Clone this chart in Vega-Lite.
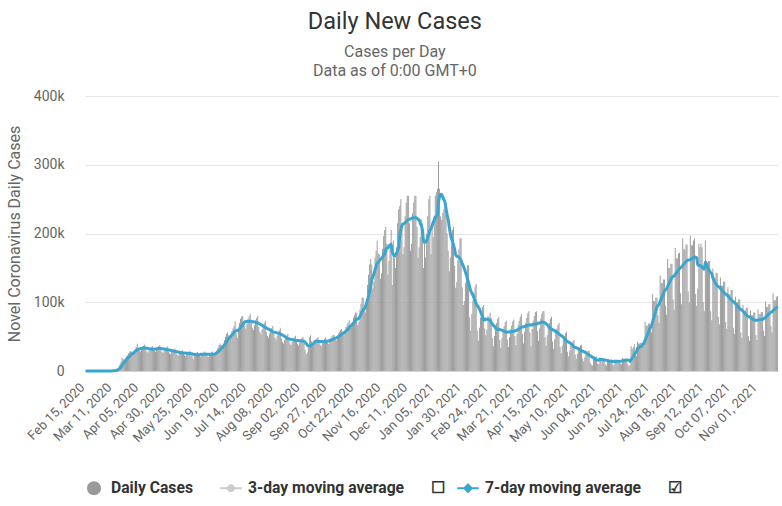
{
  "$schema": "https://vega.github.io/schema/vega-lite/v6.json",
  "width": 693,
  "height": 275,
  "autosize": "none",
  "padding": {"top": 96, "left": 85, "right": 4, "bottom": 135},
  "background": "white",
  "config": {
    "font": "Roboto",
    "view": {"stroke": null}
  },
  "title": {
    "text": "Daily New Cases",
    "subtitle": ["Cases per Day", "Data as of 0:00 GMT+0"],
    "fontSize": 23.5,
    "fontWeight": "normal",
    "color": "#333333",
    "subtitleFontSize": 16,
    "subtitleColor": "#666666",
    "subtitlePadding": 11,
    "subtitleLineHeight": 19,
    "anchor": "middle",
    "frame": "bounds",
    "offset": 10
  },
  "data": {"values": [
    {"d":"2020-02-15","c":0},{"d":"2020-02-16","c":0},{"d":"2020-02-17","c":0},{"d":"2020-02-18","c":1},{"d":"2020-02-19","c":0},{"d":"2020-02-20","c":0},{"d":"2020-02-21","c":0},
    {"d":"2020-02-22","c":0},{"d":"2020-02-23","c":0},{"d":"2020-02-24","c":0},{"d":"2020-02-25","c":0},{"d":"2020-02-26","c":1},{"d":"2020-02-27","c":0},{"d":"2020-02-28","c":1},
    {"d":"2020-02-29","c":6},{"d":"2020-03-01","c":9},{"d":"2020-03-02","c":20},{"d":"2020-03-03","c":25},{"d":"2020-03-04","c":37},{"d":"2020-03-05","c":70},{"d":"2020-03-06","c":90},
    {"d":"2020-03-07","c":130},{"d":"2020-03-08","c":170},{"d":"2020-03-09","c":250},{"d":"2020-03-10","c":330},{"d":"2020-03-11","c":550},{"d":"2020-03-12","c":750},{"d":"2020-03-13","c":1100},
    {"d":"2020-03-14","c":2000},{"d":"2020-03-15","c":3000},{"d":"2020-03-16","c":4500},{"d":"2020-03-17","c":7000},{"d":"2020-03-18","c":10000},{"d":"2020-03-19","c":14000},{"d":"2020-03-20","c":19000},
    {"d":"2020-03-21","c":17000},{"d":"2020-03-22","c":16500},{"d":"2020-03-23","c":19000},{"d":"2020-03-24","c":21000},{"d":"2020-03-25","c":23000},{"d":"2020-03-26","c":26000},{"d":"2020-03-27","c":28000},
    {"d":"2020-03-28","c":29000},{"d":"2020-03-29","c":27000},{"d":"2020-03-30","c":26000},{"d":"2020-03-31","c":29000},{"d":"2020-04-01","c":32000},{"d":"2020-04-02","c":35000},{"d":"2020-04-03","c":39500},
    {"d":"2020-04-04","c":33500},{"d":"2020-04-05","c":30200},{"d":"2020-04-06","c":28500},{"d":"2020-04-07","c":31800},{"d":"2020-04-08","c":35200},{"d":"2020-04-09","c":36900},{"d":"2020-04-10","c":38500},
    {"d":"2020-04-11","c":31500},{"d":"2020-04-12","c":28400},{"d":"2020-04-13","c":26800},{"d":"2020-04-14","c":29900},{"d":"2020-04-15","c":33100},{"d":"2020-04-16","c":34700},{"d":"2020-04-17","c":36200},
    {"d":"2020-04-18","c":33000},{"d":"2020-04-19","c":29700},{"d":"2020-04-20","c":28100},{"d":"2020-04-21","c":31400},{"d":"2020-04-22","c":34700},{"d":"2020-04-23","c":36300},{"d":"2020-04-24","c":38000},
    {"d":"2020-04-25","c":31000},{"d":"2020-04-26","c":27900},{"d":"2020-04-27","c":26400},{"d":"2020-04-28","c":29500},{"d":"2020-04-29","c":32600},{"d":"2020-04-30","c":34100},{"d":"2020-05-01","c":35700},
    {"d":"2020-05-02","c":28500},{"d":"2020-05-03","c":25700},{"d":"2020-05-04","c":24200},{"d":"2020-05-05","c":27100},{"d":"2020-05-06","c":29900},{"d":"2020-05-07","c":31400},{"d":"2020-05-08","c":32800},
    {"d":"2020-05-09","c":26300},{"d":"2020-05-10","c":23700},{"d":"2020-05-11","c":22400},{"d":"2020-05-12","c":25000},{"d":"2020-05-13","c":27600},{"d":"2020-05-14","c":28900},{"d":"2020-05-15","c":30200},
    {"d":"2020-05-16","c":25500},{"d":"2020-05-17","c":23000},{"d":"2020-05-18","c":21700},{"d":"2020-05-19","c":24200},{"d":"2020-05-20","c":26800},{"d":"2020-05-21","c":28100},{"d":"2020-05-22","c":29300},
    {"d":"2020-05-23","c":24000},{"d":"2020-05-24","c":21600},{"d":"2020-05-25","c":17000},{"d":"2020-05-26","c":22800},{"d":"2020-05-27","c":25200},{"d":"2020-05-28","c":26400},{"d":"2020-05-29","c":27600},
    {"d":"2020-05-30","c":24500},{"d":"2020-05-31","c":22100},{"d":"2020-06-01","c":20800},{"d":"2020-06-02","c":23300},{"d":"2020-06-03","c":25700},{"d":"2020-06-04","c":27000},{"d":"2020-06-05","c":28200},
    {"d":"2020-06-06","c":24000},{"d":"2020-06-07","c":21500},{"d":"2020-06-08","c":20500},{"d":"2020-06-09","c":23000},{"d":"2020-06-10","c":25500},{"d":"2020-06-11","c":27000},{"d":"2020-06-12","c":28500},
    {"d":"2020-06-13","c":25500},{"d":"2020-06-14","c":24000},{"d":"2020-06-15","c":25000},{"d":"2020-06-16","c":30000},{"d":"2020-06-17","c":34000},{"d":"2020-06-18","c":38000},{"d":"2020-06-19","c":40000},
    {"d":"2020-06-20","c":38000},{"d":"2020-06-21","c":35000},{"d":"2020-06-22","c":37000},{"d":"2020-06-23","c":45000},{"d":"2020-06-24","c":50000},{"d":"2020-06-25","c":54000},{"d":"2020-06-26","c":56000},
    {"d":"2020-06-27","c":52000},{"d":"2020-06-28","c":46000},{"d":"2020-06-29","c":50000},{"d":"2020-06-30","c":58000},{"d":"2020-07-01","c":62000},{"d":"2020-07-02","c":66000},{"d":"2020-07-03","c":72000},
    {"d":"2020-07-04","c":55000},{"d":"2020-07-05","c":48000},{"d":"2020-07-06","c":58000},{"d":"2020-07-07","c":70000},{"d":"2020-07-08","c":76000},{"d":"2020-07-09","c":79000},{"d":"2020-07-10","c":80000},
    {"d":"2020-07-11","c":72500},{"d":"2020-07-12","c":65300},{"d":"2020-07-13","c":61600},{"d":"2020-07-14","c":68900},{"d":"2020-07-15","c":76100},{"d":"2020-07-16","c":79800},{"d":"2020-07-17","c":83400},
    {"d":"2020-07-18","c":70000},{"d":"2020-07-19","c":63000},{"d":"2020-07-20","c":59500},{"d":"2020-07-21","c":66500},{"d":"2020-07-22","c":73500},{"d":"2020-07-23","c":77000},{"d":"2020-07-24","c":80500},
    {"d":"2020-07-25","c":63500},{"d":"2020-07-26","c":57200},{"d":"2020-07-27","c":54000},{"d":"2020-07-28","c":60300},{"d":"2020-07-29","c":66700},{"d":"2020-07-30","c":69900},{"d":"2020-07-31","c":73000},
    {"d":"2020-08-01","c":57000},{"d":"2020-08-02","c":51300},{"d":"2020-08-03","c":48500},{"d":"2020-08-04","c":54200},{"d":"2020-08-05","c":59900},{"d":"2020-08-06","c":62700},{"d":"2020-08-07","c":65600},
    {"d":"2020-08-08","c":54000},{"d":"2020-08-09","c":48600},{"d":"2020-08-10","c":45900},{"d":"2020-08-11","c":51300},{"d":"2020-08-12","c":56700},{"d":"2020-08-13","c":59400},{"d":"2020-08-14","c":62100},
    {"d":"2020-08-15","c":47000},{"d":"2020-08-16","c":42300},{"d":"2020-08-17","c":40000},{"d":"2020-08-18","c":44700},{"d":"2020-08-19","c":49400},{"d":"2020-08-20","c":51700},{"d":"2020-08-21","c":54100},
    {"d":"2020-08-22","c":44500},{"d":"2020-08-23","c":40100},{"d":"2020-08-24","c":37800},{"d":"2020-08-25","c":42300},{"d":"2020-08-26","c":46700},{"d":"2020-08-27","c":49000},{"d":"2020-08-28","c":51200},
    {"d":"2020-08-29","c":43500},{"d":"2020-08-30","c":39200},{"d":"2020-08-31","c":37000},{"d":"2020-09-01","c":41300},{"d":"2020-09-02","c":45700},{"d":"2020-09-03","c":47900},{"d":"2020-09-04","c":50000},
    {"d":"2020-09-05","c":40000},{"d":"2020-09-06","c":31000},{"d":"2020-09-07","c":24000},{"d":"2020-09-08","c":27000},{"d":"2020-09-09","c":36000},{"d":"2020-09-10","c":49000},{"d":"2020-09-11","c":52000},
    {"d":"2020-09-12","c":43000},{"d":"2020-09-13","c":38700},{"d":"2020-09-14","c":36600},{"d":"2020-09-15","c":40900},{"d":"2020-09-16","c":45200},{"d":"2020-09-17","c":47300},{"d":"2020-09-18","c":49500},
    {"d":"2020-09-19","c":42500},{"d":"2020-09-20","c":38300},{"d":"2020-09-21","c":36100},{"d":"2020-09-22","c":40400},{"d":"2020-09-23","c":44600},{"d":"2020-09-24","c":46800},{"d":"2020-09-25","c":48900},
    {"d":"2020-09-26","c":46000},{"d":"2020-09-27","c":41400},{"d":"2020-09-28","c":39100},{"d":"2020-09-29","c":43700},{"d":"2020-09-30","c":48300},{"d":"2020-10-01","c":50600},{"d":"2020-10-02","c":52900},
    {"d":"2020-10-03","c":52000},{"d":"2020-10-04","c":46800},{"d":"2020-10-05","c":44200},{"d":"2020-10-06","c":49400},{"d":"2020-10-07","c":54600},{"d":"2020-10-08","c":57200},{"d":"2020-10-09","c":59800},
    {"d":"2020-10-10","c":61000},{"d":"2020-10-11","c":54900},{"d":"2020-10-12","c":51900},{"d":"2020-10-13","c":58000},{"d":"2020-10-14","c":64100},{"d":"2020-10-15","c":67100},{"d":"2020-10-16","c":70200},
    {"d":"2020-10-17","c":74000},{"d":"2020-10-18","c":66600},{"d":"2020-10-19","c":62900},{"d":"2020-10-20","c":70300},{"d":"2020-10-21","c":77700},{"d":"2020-10-22","c":81400},{"d":"2020-10-23","c":85100},
    {"d":"2020-10-24","c":84600},{"d":"2020-10-25","c":66800},{"d":"2020-10-26","c":71200},{"d":"2020-10-27","c":89000},{"d":"2020-10-28","c":97900},{"d":"2020-10-29","c":106800},{"d":"2020-10-30","c":106800},
    {"d":"2020-10-31","c":95000},{"d":"2020-11-01","c":85000},{"d":"2020-11-02","c":105000},{"d":"2020-11-03","c":125000},{"d":"2020-11-04","c":140000},{"d":"2020-11-05","c":155000},{"d":"2020-11-06","c":163000},
    {"d":"2020-11-07","c":155000},{"d":"2020-11-08","c":120000},{"d":"2020-11-09","c":130000},{"d":"2020-11-10","c":165000},{"d":"2020-11-11","c":175000},{"d":"2020-11-12","c":190000},{"d":"2020-11-13","c":171000},
    {"d":"2020-11-14","c":169000},{"d":"2020-11-15","c":134000},{"d":"2020-11-16","c":142000},{"d":"2020-11-17","c":178000},{"d":"2020-11-18","c":196000},{"d":"2020-11-19","c":205000},{"d":"2020-11-20","c":210000},
    {"d":"2020-11-21","c":185000},{"d":"2020-11-22","c":140000},{"d":"2020-11-23","c":160000},{"d":"2020-11-24","c":185000},{"d":"2020-11-25","c":205000},{"d":"2020-11-26","c":125000},{"d":"2020-11-27","c":190000},
    {"d":"2020-11-28","c":165000},{"d":"2020-11-29","c":150000},{"d":"2020-11-30","c":180000},{"d":"2020-12-01","c":215000},{"d":"2020-12-02","c":235000},{"d":"2020-12-03","c":240000},{"d":"2020-12-04","c":250000},
    {"d":"2020-12-05","c":210000},{"d":"2020-12-06","c":170000},{"d":"2020-12-07","c":180000},{"d":"2020-12-08","c":225000},{"d":"2020-12-09","c":245000},{"d":"2020-12-10","c":255000},{"d":"2020-12-11","c":255000},
    {"d":"2020-12-12","c":215000},{"d":"2020-12-13","c":175000},{"d":"2020-12-14","c":185000},{"d":"2020-12-15","c":230000},{"d":"2020-12-16","c":245000},{"d":"2020-12-17","c":255000},{"d":"2020-12-18","c":255000},
    {"d":"2020-12-19","c":210000},{"d":"2020-12-20","c":165000},{"d":"2020-12-21","c":180000},{"d":"2020-12-22","c":195000},{"d":"2020-12-23","c":220000},{"d":"2020-12-24","c":215000},{"d":"2020-12-25","c":150000},
    {"d":"2020-12-26","c":185000},{"d":"2020-12-27","c":165000},{"d":"2020-12-28","c":200000},{"d":"2020-12-29","c":225000},{"d":"2020-12-30","c":250000},{"d":"2020-12-31","c":255000},{"d":"2021-01-01","c":170000},
    {"d":"2021-01-02","c":215000},{"d":"2021-01-03","c":195000},{"d":"2021-01-04","c":225000},{"d":"2021-01-05","c":255000},{"d":"2021-01-06","c":260000},{"d":"2021-01-07","c":265000},{"d":"2021-01-08","c":305000},
    {"d":"2021-01-09","c":265000},{"d":"2021-01-10","c":225000},{"d":"2021-01-11","c":220000},{"d":"2021-01-12","c":230000},{"d":"2021-01-13","c":235000},{"d":"2021-01-14","c":240000},{"d":"2021-01-15","c":240000},
    {"d":"2021-01-16","c":200000},{"d":"2021-01-17","c":175000},{"d":"2021-01-18","c":145000},{"d":"2021-01-19","c":165000},{"d":"2021-01-20","c":185000},{"d":"2021-01-21","c":205000},{"d":"2021-01-22","c":210000},
    {"d":"2021-01-23","c":153000},{"d":"2021-01-24","c":121000},{"d":"2021-01-25","c":129000},{"d":"2021-01-26","c":161000},{"d":"2021-01-27","c":177000},{"d":"2021-01-28","c":193000},{"d":"2021-01-29","c":193000},
    {"d":"2021-01-30","c":122000},{"d":"2021-01-31","c":96000},{"d":"2021-02-01","c":102000},{"d":"2021-02-02","c":128000},{"d":"2021-02-03","c":141000},{"d":"2021-02-04","c":154000},{"d":"2021-02-05","c":154000},
    {"d":"2021-02-06","c":78000},{"d":"2021-02-07","c":59000},{"d":"2021-02-08","c":83000},{"d":"2021-02-09","c":103000},{"d":"2021-02-10","c":113000},{"d":"2021-02-11","c":123000},{"d":"2021-02-12","c":127000},
    {"d":"2021-02-13","c":59000},{"d":"2021-02-14","c":44000},{"d":"2021-02-15","c":63000},{"d":"2021-02-16","c":78000},{"d":"2021-02-17","c":85000},{"d":"2021-02-18","c":93000},{"d":"2021-02-19","c":96000},
    {"d":"2021-02-20","c":62000},{"d":"2021-02-21","c":52000},{"d":"2021-02-22","c":60000},{"d":"2021-02-23","c":80000},{"d":"2021-02-24","c":78000},{"d":"2021-02-25","c":85000},{"d":"2021-02-26","c":77000},
    {"d":"2021-02-27","c":48000},{"d":"2021-02-28","c":36000},{"d":"2021-03-01","c":51000},{"d":"2021-03-02","c":64000},{"d":"2021-03-03","c":70000},{"d":"2021-03-04","c":76000},{"d":"2021-03-05","c":79000},
    {"d":"2021-03-06","c":45000},{"d":"2021-03-07","c":34000},{"d":"2021-03-08","c":48000},{"d":"2021-03-09","c":59000},{"d":"2021-03-10","c":65000},{"d":"2021-03-11","c":71000},{"d":"2021-03-12","c":73000},
    {"d":"2021-03-13","c":46000},{"d":"2021-03-14","c":35000},{"d":"2021-03-15","c":49000},{"d":"2021-03-16","c":61000},{"d":"2021-03-17","c":66000},{"d":"2021-03-18","c":72000},{"d":"2021-03-19","c":75000},
    {"d":"2021-03-20","c":51000},{"d":"2021-03-21","c":38000},{"d":"2021-03-22","c":54000},{"d":"2021-03-23","c":67000},{"d":"2021-03-24","c":73000},{"d":"2021-03-25","c":79000},{"d":"2021-03-26","c":83000},
    {"d":"2021-03-27","c":54000},{"d":"2021-03-28","c":40000},{"d":"2021-03-29","c":57000},{"d":"2021-03-30","c":70000},{"d":"2021-03-31","c":77000},{"d":"2021-04-01","c":84000},{"d":"2021-04-02","c":87000},
    {"d":"2021-04-03","c":56000},{"d":"2021-04-04","c":36000},{"d":"2021-04-05","c":61000},{"d":"2021-04-06","c":73000},{"d":"2021-04-07","c":80000},{"d":"2021-04-08","c":86000},{"d":"2021-04-09","c":87000},
    {"d":"2021-04-10","c":58000},{"d":"2021-04-11","c":44000},{"d":"2021-04-12","c":62000},{"d":"2021-04-13","c":76000},{"d":"2021-04-14","c":83000},{"d":"2021-04-15","c":87000},{"d":"2021-04-16","c":87000},
    {"d":"2021-04-17","c":49000},{"d":"2021-04-18","c":37000},{"d":"2021-04-19","c":52000},{"d":"2021-04-20","c":64000},{"d":"2021-04-21","c":70000},{"d":"2021-04-22","c":76000},{"d":"2021-04-23","c":79000},
    {"d":"2021-04-24","c":43000},{"d":"2021-04-25","c":32000},{"d":"2021-04-26","c":46000},{"d":"2021-04-27","c":56000},{"d":"2021-04-28","c":62000},{"d":"2021-04-29","c":67000},{"d":"2021-04-30","c":70000},
    {"d":"2021-05-01","c":35000},{"d":"2021-05-02","c":26000},{"d":"2021-05-03","c":37000},{"d":"2021-05-04","c":46000},{"d":"2021-05-05","c":50000},{"d":"2021-05-06","c":55000},{"d":"2021-05-07","c":57000},
    {"d":"2021-05-08","c":28000},{"d":"2021-05-09","c":21000},{"d":"2021-05-10","c":30000},{"d":"2021-05-11","c":37000},{"d":"2021-05-12","c":40000},{"d":"2021-05-13","c":44000},{"d":"2021-05-14","c":45000},
    {"d":"2021-05-15","c":24000},{"d":"2021-05-16","c":18000},{"d":"2021-05-17","c":25000},{"d":"2021-05-18","c":31000},{"d":"2021-05-19","c":34000},{"d":"2021-05-20","c":37000},{"d":"2021-05-21","c":38000},
    {"d":"2021-05-22","c":18000},{"d":"2021-05-23","c":14000},{"d":"2021-05-24","c":20000},{"d":"2021-05-25","c":24000},{"d":"2021-05-26","c":26000},{"d":"2021-05-27","c":29000},{"d":"2021-05-28","c":30000},
    {"d":"2021-05-29","c":12000},{"d":"2021-05-30","c":9000},{"d":"2021-05-31","c":8000},{"d":"2021-06-01","c":22000},{"d":"2021-06-02","c":19000},{"d":"2021-06-03","c":20000},{"d":"2021-06-04","c":21000},
    {"d":"2021-06-05","c":11000},{"d":"2021-06-06","c":10000},{"d":"2021-06-07","c":19000},{"d":"2021-06-08","c":18000},{"d":"2021-06-09","c":18000},{"d":"2021-06-10","c":18000},{"d":"2021-06-11","c":18000},
    {"d":"2021-06-12","c":10000},{"d":"2021-06-13","c":8000},{"d":"2021-06-14","c":17000},{"d":"2021-06-15","c":15000},{"d":"2021-06-16","c":15000},{"d":"2021-06-17","c":16000},{"d":"2021-06-18","c":17000},
    {"d":"2021-06-19","c":10000},{"d":"2021-06-20","c":8000},{"d":"2021-06-21","c":17000},{"d":"2021-06-22","c":15000},{"d":"2021-06-23","c":16000},{"d":"2021-06-24","c":16000},{"d":"2021-06-25","c":16000},
    {"d":"2021-06-26","c":11000},{"d":"2021-06-27","c":10000},{"d":"2021-06-28","c":19000},{"d":"2021-06-29","c":18000},{"d":"2021-06-30","c":18000},{"d":"2021-07-01","c":18000},{"d":"2021-07-02","c":18000},
    {"d":"2021-07-03","c":10000},{"d":"2021-07-04","c":7000},{"d":"2021-07-05","c":9000},{"d":"2021-07-06","c":36000},{"d":"2021-07-07","c":32000},{"d":"2021-07-08","c":35000},{"d":"2021-07-09","c":39000},
    {"d":"2021-07-10","c":25000},{"d":"2021-07-11","c":22000},{"d":"2021-07-12","c":43000},{"d":"2021-07-13","c":40000},{"d":"2021-07-14","c":40000},{"d":"2021-07-15","c":41000},{"d":"2021-07-16","c":41000},
    {"d":"2021-07-17","c":42000},{"d":"2021-07-18","c":36000},{"d":"2021-07-19","c":72000},{"d":"2021-07-20","c":66000},{"d":"2021-07-21","c":66000},{"d":"2021-07-22","c":69000},{"d":"2021-07-23","c":69000},
    {"d":"2021-07-24","c":65000},{"d":"2021-07-25","c":56000},{"d":"2021-07-26","c":112000},{"d":"2021-07-27","c":102000},{"d":"2021-07-28","c":102000},{"d":"2021-07-29","c":107000},{"d":"2021-07-30","c":107000},
    {"d":"2021-07-31","c":81000},{"d":"2021-08-01","c":70000},{"d":"2021-08-02","c":139000},{"d":"2021-08-03","c":128000},{"d":"2021-08-04","c":128000},{"d":"2021-08-05","c":133000},{"d":"2021-08-06","c":133000},
    {"d":"2021-08-07","c":95000},{"d":"2021-08-08","c":82000},{"d":"2021-08-09","c":163000},{"d":"2021-08-10","c":150000},{"d":"2021-08-11","c":150000},{"d":"2021-08-12","c":156000},{"d":"2021-08-13","c":156000},
    {"d":"2021-08-14","c":104000},{"d":"2021-08-15","c":89000},{"d":"2021-08-16","c":179000},{"d":"2021-08-17","c":164000},{"d":"2021-08-18","c":164000},{"d":"2021-08-19","c":171000},{"d":"2021-08-20","c":172000},
    {"d":"2021-08-21","c":113000},{"d":"2021-08-22","c":97000},{"d":"2021-08-23","c":193000},{"d":"2021-08-24","c":177000},{"d":"2021-08-25","c":177000},{"d":"2021-08-26","c":184000},{"d":"2021-08-27","c":184000},
    {"d":"2021-08-28","c":116000},{"d":"2021-08-29","c":100000},{"d":"2021-08-30","c":197000},{"d":"2021-08-31","c":183000},{"d":"2021-09-01","c":183000},{"d":"2021-09-02","c":190000},{"d":"2021-09-03","c":193000},
    {"d":"2021-09-04","c":112000},{"d":"2021-09-05","c":95000},{"d":"2021-09-06","c":120000},{"d":"2021-09-07","c":185000},{"d":"2021-09-08","c":180000},{"d":"2021-09-09","c":185000},{"d":"2021-09-10","c":180000},
    {"d":"2021-09-11","c":100000},{"d":"2021-09-12","c":87000},{"d":"2021-09-13","c":190000},{"d":"2021-09-14","c":160000},{"d":"2021-09-15","c":158000},{"d":"2021-09-16","c":160000},{"d":"2021-09-17","c":160000},
    {"d":"2021-09-18","c":87000},{"d":"2021-09-19","c":74000},{"d":"2021-09-20","c":149000},{"d":"2021-09-21","c":136000},{"d":"2021-09-22","c":136000},{"d":"2021-09-23","c":143000},{"d":"2021-09-24","c":143000},
    {"d":"2021-09-25","c":79000},{"d":"2021-09-26","c":68000},{"d":"2021-09-27","c":136000},{"d":"2021-09-28","c":124000},{"d":"2021-09-29","c":124000},{"d":"2021-09-30","c":130000},{"d":"2021-10-01","c":130000},
    {"d":"2021-10-02","c":71000},{"d":"2021-10-03","c":61000},{"d":"2021-10-04","c":122000},{"d":"2021-10-05","c":112000},{"d":"2021-10-06","c":112000},{"d":"2021-10-07","c":118000},{"d":"2021-10-08","c":118000},
    {"d":"2021-10-09","c":63000},{"d":"2021-10-10","c":54000},{"d":"2021-10-11","c":108000},{"d":"2021-10-12","c":100000},{"d":"2021-10-13","c":100000},{"d":"2021-10-14","c":104000},{"d":"2021-10-15","c":104000},
    {"d":"2021-10-16","c":56000},{"d":"2021-10-17","c":48000},{"d":"2021-10-18","c":96000},{"d":"2021-10-19","c":88000},{"d":"2021-10-20","c":88000},{"d":"2021-10-21","c":92000},{"d":"2021-10-22","c":92000},
    {"d":"2021-10-23","c":51000},{"d":"2021-10-24","c":44000},{"d":"2021-10-25","c":88000},{"d":"2021-10-26","c":81000},{"d":"2021-10-27","c":81000},{"d":"2021-10-28","c":85000},{"d":"2021-10-29","c":85000},
    {"d":"2021-10-30","c":52000},{"d":"2021-10-31","c":45000},{"d":"2021-11-01","c":90000},{"d":"2021-11-02","c":83000},{"d":"2021-11-03","c":83000},{"d":"2021-11-04","c":86000},{"d":"2021-11-05","c":86000},
    {"d":"2021-11-06","c":59000},{"d":"2021-11-07","c":51000},{"d":"2021-11-08","c":101000},{"d":"2021-11-09","c":93000},{"d":"2021-11-10","c":93000},{"d":"2021-11-11","c":97000},{"d":"2021-11-12","c":97000},
    {"d":"2021-11-13","c":66000},{"d":"2021-11-14","c":56000},{"d":"2021-11-15","c":113000},{"d":"2021-11-16","c":103000},{"d":"2021-11-17","c":103000},{"d":"2021-11-18","c":108000},{"d":"2021-11-19","c":109000}
  ]},
  "transform": [
    {"window": [{"op": "mean", "field": "c", "as": "a"}], "frame": [-6, 0], "sort": [{"field": "d", "order": "ascending"}]}
  ],
  "encoding": {
    "x": {
      "field": "d",
      "type": "ordinal",
      "title": null,
      "scale": {"paddingInner": 0.12, "paddingOuter": 0.1},
      "axis": {
        "values": ["2020-02-15","2020-03-11","2020-04-05","2020-04-30","2020-05-25","2020-06-19","2020-07-14","2020-08-08","2020-09-02","2020-09-27","2020-10-22","2020-11-16","2020-12-11","2021-01-05","2021-01-30","2021-02-24","2021-03-21","2021-04-15","2021-05-10","2021-06-04","2021-06-29","2021-07-24","2021-08-18","2021-09-12","2021-10-07","2021-11-01"],
        "labelExpr": "utcFormat(toDate(datum.value), '%b %d, %Y')",
        "labelAngle": -45,
        "labelAlign": "right",
        "labelBaseline": "middle",
        "labelFontSize": 13,
        "labelColor": "#666666",
        "labelPadding": 14,
        "labelOffset": -3,
        "ticks": false,
        "grid": false,
        "domainColor": "#ccd6eb",
        "domainWidth": 1
      }
    }
  },
  "layer": [
    {
      "mark": {"type": "bar", "color": "#999999"},
      "encoding": {
        "y": {
          "field": "c",
          "type": "quantitative",
          "title": "Novel Coronavirus Daily Cases",
          "scale": {"domain": [0, 400000], "nice": false},
          "axis": {
            "values": [0, 100000, 200000, 300000, 400000],
            "labelExpr": "datum.value == 0 ? '0' : (datum.value / 1000) + 'k'",
            "labelFontSize": 14,
            "labelColor": "#666666",
            "labelPadding": 21,
            "ticks": false,
            "domain": false,
            "gridColor": "#e6e6e6",
            "titleFontSize": 16,
            "titleFontWeight": "normal",
            "titleColor": "#666666",
            "titlePadding": 11
          }
        }
      }
    },
    {
      "mark": {"type": "line", "color": "#3aa6d0", "strokeWidth": 3, "interpolate": "monotone"},
      "encoding": {
        "y": {"field": "a", "type": "quantitative", "title": "Novel Coronavirus Daily Cases"}
      }
    },
    {
      "transform": [{"filter": "false"}],
      "mark": {"type": "point", "filled": true, "opacity": 1},
      "encoding": {
        "y": {"field": "c", "type": "quantitative", "title": "Novel Coronavirus Daily Cases"},
        "size": {"value": 576},
        "color": {
          "field": "s",
          "type": "nominal",
          "scale": {
            "domain": ["Daily Cases", "3-day moving average", "7-day moving average"],
            "range": ["#999999", "#cccccc", "#3aa6d0"]
          },
          "legend": {
            "orient": "none",
            "legendX": -3,
            "legendY": 380,
            "direction": "horizontal",
            "title": null,
            "padding": 0,
            "labelFontSize": 15.7,
            "labelFontWeight": "bold",
            "labelColor": "#333333",
            "labelLimit": 400,
            "labelOffset": 5,
            "columnPadding": 10,
            "symbolSize": 576,
            "symbolStrokeWidth": 0,
            "labelExpr": "datum.value == '3-day moving average' ? datum.label + '\u00a0\u00a0\u00a0\u00a0\u00a0\u00a0\u00a0\u2610' : datum.value == '7-day moving average' ? datum.label + '\u00a0\u00a0\u00a0\u00a0\u00a0\u00a0\u00a0\u2611' : datum.label + '\u00a0\u00a0\u00a0\u00a0\u200b'",
            "encoding": {
              "labels": {"update": {"fill": {"signal": "datum.value == '3-day moving average' ? '#cccccc' : '#333333'"}}}
            }
          }
        },
        "shape": {
          "field": "s",
          "type": "nominal",
          "scale": {
            "domain": ["Daily Cases", "3-day moving average", "7-day moving average"],
            "range": [
              "M-0.58,0A0.58,0.58,0,1,1,0.58,0A0.58,0.58,0,1,1,-0.58,0Z",
              "M-0.9,-0.085H0.9V0.085H-0.9ZM-0.33,0A0.33,0.33,0,1,1,0.33,0A0.33,0.33,0,1,1,-0.33,0Z",
              "M-0.9,-0.085H0.9V0.085H-0.9ZM0,-0.42L0.42,0L0,0.42L-0.42,0Z"
            ]
          },
          "legend": {
            "orient": "none",
            "legendX": -3,
            "legendY": 380,
            "direction": "horizontal",
            "title": null,
            "padding": 0,
            "labelFontSize": 15.7,
            "labelFontWeight": "bold",
            "labelColor": "#333333",
            "labelLimit": 400,
            "labelOffset": 5,
            "columnPadding": 10,
            "symbolSize": 576,
            "symbolStrokeWidth": 0,
            "labelExpr": "datum.value == '3-day moving average' ? datum.label + '\u00a0\u00a0\u00a0\u00a0\u00a0\u00a0\u00a0\u2610' : datum.value == '7-day moving average' ? datum.label + '\u00a0\u00a0\u00a0\u00a0\u00a0\u00a0\u00a0\u2611' : datum.label + '\u00a0\u00a0\u00a0\u00a0\u200b'",
            "encoding": {
              "labels": {"update": {"fill": {"signal": "datum.value == '3-day moving average' ? '#cccccc' : '#333333'"}}}
            }
          }
        }
      }
    }
  ]
}
